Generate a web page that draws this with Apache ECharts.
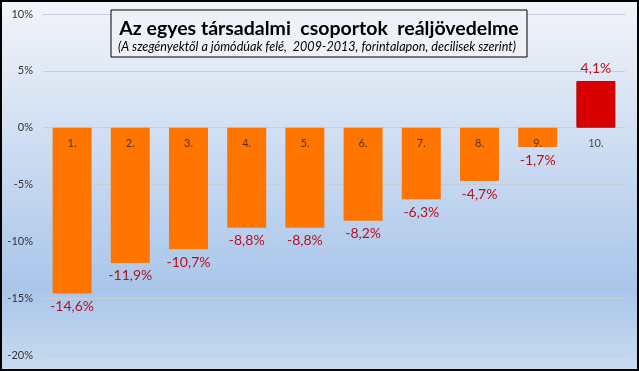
<!DOCTYPE html>
<html><head><meta charset="utf-8">
<script src="https://cdn.jsdelivr.net/npm/echarts@6/dist/echarts.min.js"></script>
<style>html,body{margin:0;padding:0;}#c{width:639px;height:371px;}</style>
</head><body><div id="c"></div>
<script>
const categories = ['1.', '2.', '3.', '4.', '5.', '6.', '7.', '8.', '9.', '10.'];
const values = [-14.6, -11.9, -10.7, -8.8, -8.8, -8.2, -6.3, -4.7, -1.7, 4.1];
const titleText = 'Az egyes társadalmi  csoportok  reáljövedelme';
const subText = '(A szegényektől a jómódúak felé,  2009-2013, forintalapon, decilisek szerint)';

const FONT = 'Lato, "Open Sans", sans-serif';
const chart = echarts.init(document.getElementById('c'), null, {renderer: 'canvas'});
chart.setOption({
  animation: false,
  backgroundColor: {type: 'linear', x: 0, y: 0, x2: 0, y2: 1, colorStops: [
    {offset: 0, color: '#f2f4f9'},
    {offset: 0.78, color: '#a9c6ea'},
    {offset: 1, color: '#c9dbf0'}
  ]},
  grid: {left: 43, right: 14, top: 14, bottom: 16},
  xAxis: {
    type: 'category', data: categories,
    axisLine: {show: false}, axisTick: {show: false}, axisLabel: {show: false}
  },
  yAxis: {
    type: 'value', min: -20, max: 10, interval: 5,
    axisLine: {show: false}, axisTick: {show: false},
    axisLabel: {color: '#333', fontSize: 11, fontFamily: FONT, margin: 10, formatter: v => v + '%'},
    splitLine: {lineStyle: {color: '#c8ced8', width: 1}}
  },
  series: [{
    type: 'bar', barCategoryGap: '33%', z: 1,
    data: values.map(v => ({
      value: v,
      itemStyle: v > 0 ? {color: '#d90000', borderColor: '#b00000', borderWidth: 1} : {color: '#ff7500'},
      label: {position: v > 0 ? 'top' : 'bottom'}
    })),
    label: {show: true, distance: 6, color: '#b8101e', fontSize: 14, fontFamily: FONT,
      formatter: p => String(p.value).replace('.', ',') + '%'}
  }, {
    // category names placed just below the zero line
    type: 'scatter', z: 3, symbolSize: 0, silent: true,
    data: categories.map(c => [c, 0]),
    label: {show: true, position: 'bottom', distance: 10, color: '#222', fontSize: 11, fontFamily: FONT,
      formatter: p => p.value[0]}
  }],
  graphic: [
    {type: 'rect', z: 100, shape: {x: 111, y: 10, width: 416, height: 47},
      style: {fill: '#eef2f8', stroke: '#000', lineWidth: 1}},
    {type: 'text', z: 101, x: 319, y: 29, style: {text: titleText, fill: '#000',
      font: 'bold 19.5px ' + FONT, textAlign: 'center', textVerticalAlign: 'middle'}},
    {type: 'text', z: 101, x: 317, y: 47, style: {text: subText, fill: '#000',
      font: 'italic 12.6px ' + FONT, textAlign: 'center', textVerticalAlign: 'middle'}},
    {type: 'rect', z: 100, shape: {x: 1, y: 1, width: 637, height: 369},
      style: {fill: 'none', stroke: '#000', lineWidth: 2}}
  ]
});
</script></body></html>
